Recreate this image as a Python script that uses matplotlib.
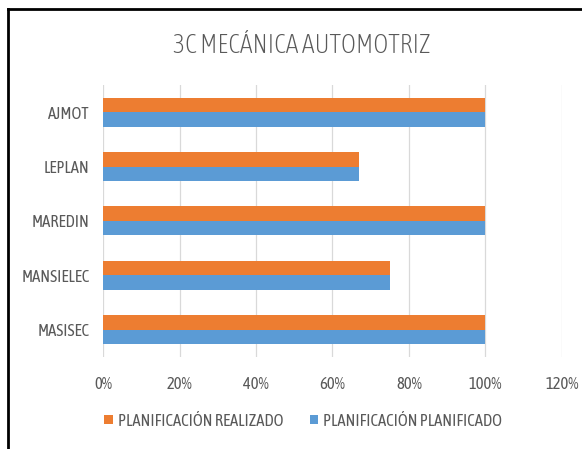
import numpy as np
import matplotlib.pyplot as plt
from matplotlib.lines import Line2D
from matplotlib import font_manager as fm

# data
materias = ["AJMOT", "LEPLAN", "MAREDIN", "MANSIELEC", "MASISEC"]
realizado = [1.00, 0.67, 1.00, 0.75, 1.00]
planificado = [1.00, 0.67, 1.00, 0.75, 1.00]
ticks = [0, 0.2, 0.4, 0.6, 0.8, 1.0, 1.2]
tick_labels = ["0%", "20%", "40%", "60%", "80%", "100%", "120%"]

# pick a narrow font that is actually installed
instaladas = set(f.name for f in fm.fontManager.ttflist)
candidatas = ['Liberation Sans Narrow', 'Asap Condensed', 'Barlow Semi Condensed', 'Archivo Narrow']
fuente = [c for c in candidatas if c in instaladas][:1] + ['DejaVu Sans']
plt.rcParams['font.family'] = fuente
plt.rcParams['font.weight'] = 'normal'

gris = "#595959"
naranja = "#ED7D31"
azul = "#5B9BD5"

fig = plt.figure(figsize=(5.82, 4.49), dpi=100)
ax = fig.add_axes([0.177, 0.205, 0.7886, 0.6057])

y = np.arange(len(materias))[::-1]
h = 0.267
ax.barh(y + h/2, realizado, height=h, color=naranja, label="PLANIFICACIÓN REALIZADO", zorder=3)
ax.barh(y - h/2, planificado, height=h, color=azul, label="PLANIFICACIÓN PLANIFICADO", zorder=3)

ax.set_xlim(0, 1.2)
ax.set_ylim(-0.5, 4.5)
ax.set_xticks(ticks)
ax.set_xticklabels(tick_labels)
ax.set_yticks(y)
ax.set_yticklabels(materias)
ax.tick_params(axis='both', length=0, labelsize=12, labelcolor=gris)
ax.tick_params(axis='x', pad=14)
ax.tick_params(axis='y', pad=9.5)
ax.grid(axis='x', color="#D9D9D9", linewidth=0.9, zorder=0)
for s in ax.spines.values():
    s.set_visible(False)

fig.text(0.518, 0.8976, "3C MECÁNICA AUTOMOTRIZ", ha='center', va='center',
         fontsize=18.5, color=gris, fontweight='light')

leg = ax.legend(loc='center', bbox_to_anchor=(0.521, 0.062), bbox_transform=fig.transFigure,
                ncol=2, frameon=False, fontsize=12, labelcolor=gris,
                handlelength=0.5, handleheight=0.5, handletextpad=0.3, columnspacing=1.6)

# marco negro del recorte
fig.add_artist(Line2D([0.0146, 0.0146], [0, 0.981], transform=fig.transFigure, color='black', lw=2))
fig.add_artist(Line2D([0.0146, 1.0], [0.981, 0.981], transform=fig.transFigure, color='black', lw=2))

fig.savefig("out.png", dpi=100)
